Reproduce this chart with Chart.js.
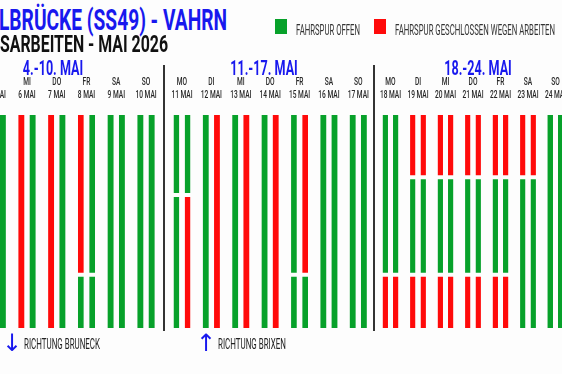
<!DOCTYPE html>
<html><head><meta charset="utf-8">
<script src="https://cdn.jsdelivr.net/npm/chart.js@4.4.1/dist/chart.umd.min.js"></script>
<style>
html,body{margin:0;padding:0;background:#fdfdfd;}
body{width:562px;height:374px;overflow:hidden;position:relative;font-family:Roboto,sans-serif;}
.t{position:absolute;white-space:nowrap;transform-origin:0 0;line-height:1;}
canvas{position:absolute;top:55px;}
.sep{position:absolute;width:2px;background:#333;top:65px;height:266px;}
.sq{position:absolute;width:12px;height:15px;top:19px;}
</style></head><body>
<canvas id="w1" width="216" height="275" style="left:-55px;width:216px;height:275px"></canvas>
<canvas id="w2" width="218" height="275" style="left:155px;width:218px;height:275px"></canvas>
<canvas id="w3" width="204" height="275" style="left:376px;width:204px;height:275px"></canvas>
<div class="sep" style="left:163px"></div>
<div class="sep" style="left:373px"></div>

<div class="t" data-w="228" style="left:-1px;top:5.6px;font-size:29px;font-weight:700;color:#1818ee;">LBRÜCKE (SS49) - VAHRN</div>
<div class="t" data-w="168" style="left:0px;top:31.8px;font-size:24px;font-weight:700;color:#111;">SARBEITEN - MAI 2026</div>

<div class="sq" style="left:275px;background:#07a12a"></div>
<div class="t" data-w="64" style="left:296px;top:23px;font-size:15px;color:#333;">FAHRSPUR OFFEN</div>
<div class="sq" style="left:374px;background:#ff0a0a"></div>
<div class="t" data-w="160" style="left:395px;top:23px;font-size:15px;color:#333;">FAHRSPUR GESCHLOSSEN WEGEN ARBEITEN</div>

<div class="t" style="left:2px;top:331px;font-family:'DejaVu Sans';font-size:24px;color:#1818ee;">↓</div>
<div class="t" data-w="76" style="left:24px;top:336.5px;font-size:15px;color:#222;">RICHTUNG BRUNECK</div>
<div class="t" style="left:196px;top:331px;font-family:'DejaVu Sans';font-size:24px;color:#1818ee;">↑</div>
<div class="t" data-w="68" style="left:218px;top:336.5px;font-size:15px;color:#222;">RICHTUNG BRIXEN</div>

<script>
// ---- data ----
const dayNames = ['MO','DI','MI','DO','FR','SA','SO'];
const weekTitles = ['4.-10. MAI','11.-17. MAI','18.-24. MAI'];
const week1Dates = ['4 MAI','5 MAI','6 MAI','7 MAI','8 MAI','9 MAI','10 MAI'];
const week2Dates = ['11 MAI','12 MAI','13 MAI','14 MAI','15 MAI','16 MAI','17 MAI'];
const week3Dates = ['18 MAI','19 MAI','20 MAI','21 MAI','22 MAI','23 MAI','24 MAI'];
// lane schedules per day: state (G = open, R = closed), then hour of change, then next state ...
const week1LaneA = ['G|9|R','R','R','R','R|18|G','G','G'];
const week1LaneB = ['G|9|G','G','G','G','G|18|G','G','G'];
const week2LaneA = ['G|9|G','G','G','G','G|18|G','G','G'];
const week2LaneB = ['G|9|R','R','R','R','R|18|G','G','G'];
const week3LaneA = ['G|18|R','R|7|G|18|R','R|7|G|18|R','R|7|G|18|R','R|7|G|18|R','R|7|G','G'];
const week3LaneB = ['G|18|R','R|7|G|18|R','R|7|G|18|R','R|7|G|18|R','R|7|G|18|R','R|7|G','G'];
const dayHours = [0, 24];

// ---- styles ----
const COLORS = {G:'#07a12a', R:'#ff0a0a'};
const BG = '#fdfdfd';
const BLUE = '#1818ee';
const layoutPads = [[7.6,0.1],[12.3,0],[0.75,10.75]];

function segments(code){
  const p = code.split('|'); const out = []; let start = dayHours[0];
  for (let i = 0; i < p.length; i += 2){
    const end = i + 1 < p.length ? +p[i+1] : dayHours[1];
    out.push({from:start, to:end, state:p[i]}); start = end;
  }
  return out;
}

const condenseText = {
  id:'condenseText',
  beforeDraw(chart){
    const ctx = chart.ctx;
    if (ctx._condensed) return;
    ctx._condensed = true;
    const orig = CanvasRenderingContext2D.prototype.fillText;
    ctx.fillText = function(text, x, y, maxWidth){
      const m = /([\d.]+)px/.exec(this.font);
      const size = m ? +m[1] : 10;
      const k = size > 14 ? 0.6 : 0.66;
      this.save(); this.translate(x, y); this.scale(k, 1);
      orig.call(this, text, 0, 0);
      this.restore();
    };
  }
};

function makeWeek(id, dates, laneA, laneB, title, pads){
  const datasets = [];
  [['A', laneA], ['B', laneB]].forEach(([name, lane]) => {
    for (let s = 0; s < 3; s++){
      const segs = lane.map(c => segments(c)[s]);
      datasets.push({
        label: name + s,
        stack: name,
        data: segs.map(g => g ? [g.from, g.to] : null),
        backgroundColor: segs.map(g => g ? COLORS[g.state] : 'transparent'),
        borderColor: BG,
        borderSkipped: false,
        borderWidth: (c) => {
          const r = c.raw; if (!r) return 0;
          return {top: r[0] > dayHours[0] ? 2 : 0, bottom: r[1] < dayHours[1] ? 2 : 0, left: 0, right: 0};
        },
        categoryPercentage: 0.76,
        barPercentage: 0.52
      });
    }
  });
  return new Chart(document.getElementById(id), {
    type: 'bar',
    data: {labels: dates.map((d, i) => [dayNames[i], d]), datasets},
    options: {
      responsive: false, animation: false, devicePixelRatio: 1,
      layout: {padding: {top: 0, bottom: 2, left: 0, right: 0}},
      plugins: {
        legend: {display: false}, tooltip: {enabled: false},
        title: {display: true, text: title, color: BLUE,
          font: {family: 'Roboto', weight: 'bold', size: 21, lineHeight: '14px'},
          padding: {top: 7.5, bottom: 0}}
      },
      scales: {
        x: {position: 'top', stacked: true, offset: true,
          grid: {display: false, drawTicks: false}, border: {display: false},
          ticks: {autoSkip: false, maxRotation: 0, minRotation: 0, padding: 13, color: '#262626',
            font: {family: 'Roboto', size: 10, weight: '500', lineHeight: '13px'}},
          afterFit(ax){ ax.paddingLeft = pads[0]; ax.paddingRight = pads[1]; ax.height = 38.5; }
        },
        y: {display: false, min: dayHours[0], max: dayHours[1], reverse: true, stacked: false}
      }
    },
    plugins: [condenseText]
  });
}

makeWeek('w1', week1Dates, week1LaneA, week1LaneB, weekTitles[0], layoutPads[0]);
makeWeek('w2', week2Dates, week2LaneA, week2LaneB, weekTitles[1], layoutPads[1]);
makeWeek('w3', week3Dates, week3LaneA, week3LaneB, weekTitles[2], layoutPads[2]);

function fitTexts(){
  document.querySelectorAll('[data-w]').forEach(el => {
    el.style.transform = 'none';
    const w = el.getBoundingClientRect().width;
    el.style.transform = 'scaleX(' + (+el.dataset.w) / w + ')';
  });
}
fitTexts();
if (document.fonts && document.fonts.ready) document.fonts.ready.then(fitTexts);
</script>
</body></html>
